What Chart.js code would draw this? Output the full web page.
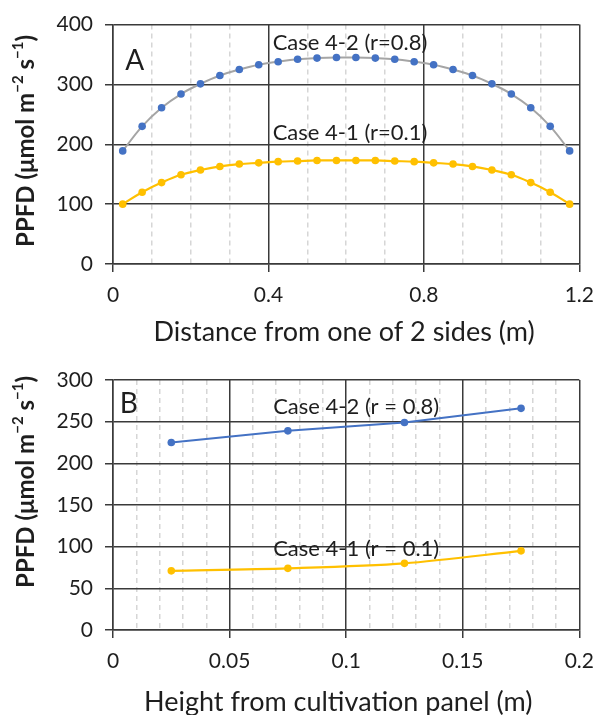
<!DOCTYPE html>
<html><head><meta charset="utf-8">
<script src="https://cdn.jsdelivr.net/npm/chart.js@4/dist/chart.umd.min.js"></script>
<style>
html,body{margin:0;padding:0;background:#fff;}
#w{position:relative;width:605px;height:715px;overflow:hidden;}
canvas{position:absolute;left:0;}
</style></head><body>
<div id="w">
<canvas id="a" width="605" height="350" style="top:0"></canvas>
<canvas id="b" width="605" height="365" style="top:350px"></canvas>
</div>
<script>
// ---------- data ----------
const distanceM = [0.025,0.075,0.125,0.175,0.225,0.275,0.325,0.375,0.425,0.475,0.525,0.575,0.625,0.675,0.725,0.775,0.825,0.875,0.925,0.975,1.025,1.075,1.125,1.175];
const case42A = [189,230,261,284,301,315,325,333,338,342,344,345,345,344,342,338,333,325,315,301,284,261,230,189];
const case41A = [100,120,136,149,157,163,167,169,171,172,173,173,173,173,172,171,169,167,163,157,149,136,120,100];
const heightM = [0.025,0.075,0.125,0.175];
const case42B = [225,239,249,266];
const case41B = [71,74,80,95];
const xTicksA = [0,0.4,0.8,1.2];
const xTickLabelsA = ['0','0.4','0.8','1.2'];
const xMinorA = [0.1,0.2,0.3,0.5,0.6,0.7,0.9,1.0,1.1];
const yTicksA = [0,100,200,300,400];
const xTicksB = [0,0.05,0.1,0.15,0.2];
const xTickLabelsB = ['0','0.05','0.1','0.15','0.2'];
const xMinorB = [0.01,0.02,0.03,0.04,0.06,0.07,0.08,0.09,0.11,0.12,0.13,0.14,0.16,0.17,0.18,0.19];
const yTicksB = [0,50,100,150,200,250,300];
const seriesNamesA = ['Case 4-2 (r=0.8)','Case 4-1 (r=0.1)'];
const seriesNamesB = ['Case 4-2 (r = 0.8)','Case 4-1 (r = 0.1)'];
const yTitleSegs = [{t:'PPFD (\u03bcmol m'},{t:'\u22122',sup:true},{t:' s'},{t:'\u22121',sup:true},{t:')'}];

// ---------- style ----------
const FONT = 'Lato, "Open Sans", sans-serif';
const INK = '#1e1e1e';
const MAJOR = '#3a3a3a';
const MINOR = '#d6d6d6';
const BLUE = '#4472C4', GOLD = '#FFC000', GREY = '#A5A5A5';
const TICK_SIZE = 21;

function richText(ctx, segs, x, y, size, weight, rot) {
  ctx.save(); ctx.translate(x, y); if (rot) ctx.rotate(rot);
  ctx.fillStyle = INK; ctx.textBaseline = 'middle'; ctx.textAlign = 'left';
  const w = []; let total = 0;
  segs.forEach(s => { ctx.font = `${weight} ${s.sup ? Math.round(size*0.62) : size}px ${FONT}`; const m = ctx.measureText(s.t).width; w.push(m); total += m; });
  let cx = -total/2;
  segs.forEach((s, i) => { ctx.font = `${weight} ${s.sup ? Math.round(size*0.62) : size}px ${FONT}`; ctx.fillText(s.t, cx, s.sup ? -size*0.33 : 0); cx += w[i]; });
  ctx.restore();
}

const inkPlugin = {
  id: 'ink',
  afterDraw(chart, args, o) {
    const ctx = chart.ctx, xs = chart.scales.x, ys = chart.scales.y;
    (o.labels || []).forEach(l => {
      ctx.save(); ctx.fillStyle = INK; ctx.font = `${l.size}px ${FONT}`;
      ctx.textAlign = 'center'; ctx.textBaseline = 'middle';
      ctx.fillText(l.text, xs.getPixelForValue(l.x), ys.getPixelForValue(l.y));
      ctx.restore();
    });
    const ca = chart.chartArea;
    richText(ctx, [{t:o.xTitle}], (ca.left+ca.right)/2 + o.xTitleDx, o.xTitleY, o.titleSize, 'normal', 0);
    richText(ctx, yTitleSegs, o.yTitleX, o.yTitleY, o.yTitleSize, 'bold', -Math.PI/2);
  }
};

function makeChart(id, cfg) {
  const majorGrid = {color: MAJOR, lineWidth: 1.5, tickLength: 8, tickColor: MAJOR, tickWidth: 1.5};
  return new Chart(document.getElementById(id), {
    type: 'line',
    data: {datasets: cfg.datasets},
    options: {
      responsive: false, animation: false,
      layout: {padding: {top: cfg.padTop, right: 22, left: 0, bottom: 0}},
      plugins: {legend: {display: false}, tooltip: {enabled: false}, ink: cfg.ink},
      scales: {
        xm: {type: 'linear', position: 'bottom', min: cfg.xMin, max: cfg.xMax,
          afterBuildTicks: s => { s.ticks = cfg.xMinor.map(v => ({value: v})); },
          ticks: {display: false}, grid: {color: MINOR, lineWidth: 1.5, drawTicks: false},
          border: {display: false, dash: [5, 4]},
          afterFit: s => { s.height = 0; }},
        x: {type: 'linear', position: 'bottom', min: cfg.xMin, max: cfg.xMax,
          afterBuildTicks: s => { s.ticks = cfg.xTicks.map(v => ({value: v})); },
          ticks: {color: INK, font: {family: FONT, size: TICK_SIZE}, padding: 11, maxRotation: 0, autoSkip: false,
            callback: (v, i) => cfg.xTickLabels[i]},
          grid: majorGrid, border: {color: MAJOR, width: 1.5},
          afterFit: s => { s.height = cfg.xAxisH; }},
        y: {type: 'linear', min: cfg.yMin, max: cfg.yMax,
          afterBuildTicks: s => { s.ticks = cfg.yTicks.map(v => ({value: v})); },
          ticks: {color: INK, font: {family: FONT, size: TICK_SIZE}, padding: 12, autoSkip: false},
          grid: majorGrid, border: {color: MAJOR, width: 1.5},
          afterFit: s => { s.width = 113; }}
      }
    },
    plugins: [inkPlugin]
  });
}

function pts(xs, ys) { return xs.map((x, i) => ({x, y: ys[i]})); }

makeChart('a', {
  padTop: 14, xAxisH: 86, xMin: 0, xMax: 1.2, yMin: 0, yMax: 400,
  xTicks: xTicksA, xTickLabels: xTickLabelsA, xMinor: xMinorA, yTicks: yTicksA,
  datasets: [
    {data: pts(distanceM, case42A), borderColor: GREY, borderWidth: 2, tension: 0.4,
     pointRadius: 3.8, pointBackgroundColor: BLUE, pointBorderWidth: 0},
    {data: pts(distanceM, case41A), borderColor: GOLD, borderWidth: 2.2, tension: 0.4,
     pointRadius: 3.8, pointBackgroundColor: GOLD, pointBorderWidth: 0}
  ],
  ink: {labels: [
      {text: 'A', x: 0.056, y: 339, size: 28},
      {text: seriesNamesA[0], x: 0.61, y: 369, size: 22},
      {text: seriesNamesA[1], x: 0.61, y: 219, size: 22}],
    xTitle: 'Distance from one of 2 sides (m)', xTitleDx: -2, xTitleY: 332, titleSize: 27,
    yTitleX: 26, yTitleY: 141, yTitleSize: 24}
});

makeChart('b', {
  padTop: 30, xAxisH: 85, xMin: 0, xMax: 0.2, yMin: 0, yMax: 300,
  xTicks: xTicksB, xTickLabels: xTickLabelsB, xMinor: xMinorB, yTicks: yTicksB,
  datasets: [
    {data: pts(heightM, case42B), borderColor: BLUE, borderWidth: 2, tension: 0,
     pointRadius: 3.8, pointBackgroundColor: BLUE, pointBorderWidth: 0},
    {data: pts(heightM, case41B), borderColor: GOLD, borderWidth: 2.2, tension: 0.3,
     pointRadius: 3.8, pointBackgroundColor: GOLD, pointBorderWidth: 0}
  ],
  ink: {labels: [
      {text: 'B', x: 0.0068, y: 271, size: 28},
      {text: seriesNamesB[0], x: 0.1043, y: 268, size: 22},
      {text: seriesNamesB[1], x: 0.1043, y: 97, size: 22}],
    xTitle: 'Height from cultivation panel (m)', xTitleDx: -8, xTitleY: 352, titleSize: 27,
    yTitleX: 26, yTitleY: 132, yTitleSize: 24}
});
</script>
</body></html>
